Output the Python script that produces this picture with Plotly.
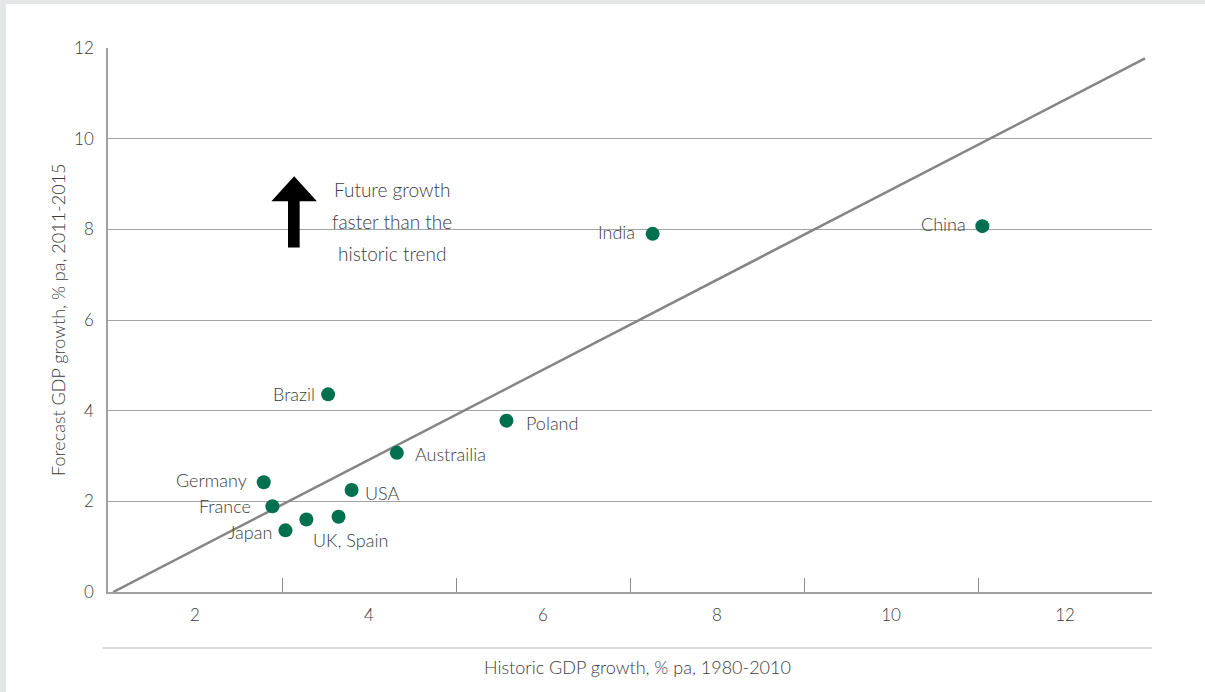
import plotly.graph_objects as go

# Historic vs forecast GDP growth by country
countries = ["Brazil", "Australia", "Germany", "USA", "France", "UK", "Spain", "Japan", "India", "China", "Poland"]
historic_growth = [3.53, 4.32, 2.79, 3.80, 2.89, 3.28, 3.65, 3.04, 7.26, 11.05, 5.58]
forecast_growth = [4.36, 3.07, 2.42, 2.25, 1.89, 1.60, 1.66, 1.36, 7.90, 8.07, 3.78]

# Point labels: (text, anchor country, xanchor, xshift, yshift)
point_labels = [
    ("Brazil", "Brazil", "right", -11, 0),
    ("Austrailia", "Australia", "left", 16, -1),
    ("Germany", "Germany", "right", -15, 2),
    ("USA", "USA", "left", 11, -3),
    ("France", "France", "right", -19, 0),
    ("Japan", "Japan", "right", -11, -2),
    ("UK, Spain", "UK", "left", 5, -21),
    ("India", "India", "right", -16, 2),
    ("China", "China", "right", -14, 2),
    ("Poland", "Poland", "left", 18, -2),
]

# Trend line (equal growth reference)
trend_x = [1.06, 12.92]
trend_y = [0.0, 11.77]

x_tick_labels = [2, 4, 6, 8, 10, 12]
x_divider_ticks = [3, 5, 7, 9, 11]
y_tick_labels = [0, 2, 4, 6, 8, 10, 12]

note_lines = ["Future growth", "faster than the", "historic trend"]
note_x = 4.27
note_y = [8.87, 8.17, 7.46]

FONT = "Lato, 'Open Sans', sans-serif"
WEIGHT = 300
TEXT = "#3c3c3c"
GREEN = "#00704f"
GRID = "#a3a3a3"

# plot area geometry in pixels, used to place frame decorations outside it
W, H = 1205, 692
ML, MR, MT, MB = 108, 53, 48, 100
PW, PH = W - ML - MR, H - MT - MB


def px_x(p):
    return (p - ML) / PW


def px_y(p):
    return (H - MB - p) / PH


def font(size):
    return dict(family=FONT, size=size, color=TEXT, weight=WEIGHT)


fig = go.Figure()

fig.add_trace(go.Scatter(
    x=trend_x, y=trend_y, mode="lines",
    line=dict(color="#858585", width=2.5),
    hoverinfo="skip", showlegend=False,
))

fig.add_trace(go.Scatter(
    x=historic_growth, y=forecast_growth, mode="markers",
    marker=dict(color=GREEN, size=14, line=dict(width=0)),
    text=countries, hoverinfo="text", showlegend=False,
))

annotations = []
lookup = dict(zip(countries, zip(historic_growth, forecast_growth)))
for text, key, xa, xs, ys in point_labels:
    px, py = lookup[key]
    annotations.append(dict(
        x=px, y=py, text=text, showarrow=False,
        xanchor=xa, yanchor="middle", xshift=xs, yshift=ys,
        font=font(18),
    ))

for line, ny in zip(note_lines, note_y):
    annotations.append(dict(
        x=note_x, y=ny, text=line, showarrow=False,
        xanchor="center", yanchor="middle",
        font=font(19),
    ))

# axis titles
annotations.append(dict(
    xref="paper", yref="paper", x=px_x(637), y=px_y(667),
    text="Historic GDP growth, % pa, 1980-2010", showarrow=False,
    xanchor="center", yanchor="middle",
    font=font(18),
))
annotations.append(dict(
    xref="paper", yref="paper", x=px_x(58), y=px_y(320),
    text="Forecast GDP growth, % pa, 2011-2015", showarrow=False,
    textangle=-90, xanchor="center", yanchor="middle",
    font=font(18),
))

shapes = [
    # grey frame strips on the left and top edges
    dict(type="rect", xref="paper", yref="paper", layer="below",
         x0=px_x(0), x1=px_x(6), y0=px_y(H), y1=px_y(0),
         fillcolor="#e5e6e8", line=dict(width=0)),
    dict(type="rect", xref="paper", yref="paper", layer="below",
         x0=px_x(0), x1=px_x(W), y0=px_y(4), y1=px_y(0),
         fillcolor="#e5e6e8", line=dict(width=0)),
    # separator line above the x-axis title
    dict(type="line", xref="paper", yref="paper",
         x0=px_x(103), x1=px_x(1152), y0=px_y(648), y1=px_y(648),
         line=dict(color="#cfcfcf", width=1.5)),
    # upward arrow next to the note
    dict(type="path", xref="x", yref="y",
         path="M 3.069,7.60 L 3.203,7.60 L 3.203,8.62 L 3.401,8.62 "
              "L 3.14,9.17 L 2.878,8.62 L 3.069,8.62 Z",
         fillcolor="#000000", line=dict(width=0)),
]

fig.update_layout(
    width=W, height=H,
    margin=dict(l=ML, r=MR, t=MT, b=MB, pad=0),
    paper_bgcolor="white", plot_bgcolor="white",
    font=dict(family=FONT, color=TEXT, weight=WEIGHT),
    xaxis=dict(
        range=[1, 13], tickmode="array", tickvals=x_tick_labels,
        ticks="", showgrid=False, zeroline=False,
        showline=True, linecolor="#a0a0a0", linewidth=1.5,
        tickfont=font(17),
        ticklabelstandoff=7,
        minor=dict(tickmode="array", tickvals=x_divider_ticks,
                   ticks="inside", ticklen=14, tickcolor="#8c8c8c",
                   tickwidth=1.3, showgrid=False),
    ),
    yaxis=dict(
        range=[0, 12], tickmode="array", tickvals=y_tick_labels,
        ticks="", showgrid=True, gridcolor=GRID, gridwidth=1.3,
        zeroline=False, showline=True, linecolor="#a0a0a0", linewidth=1.5,
        tickfont=font(17),
        ticklabelstandoff=9,
    ),
    annotations=annotations,
    shapes=shapes,
)

fig.write_html("out.html")
